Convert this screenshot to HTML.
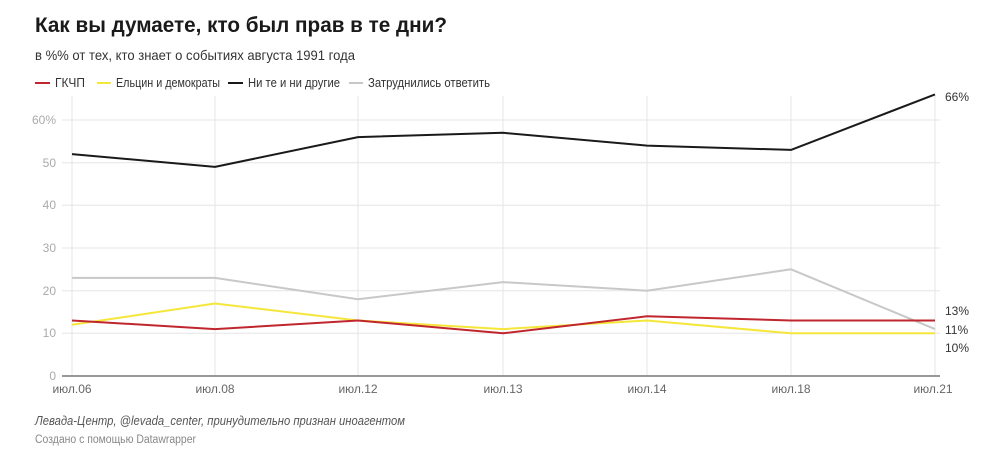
<!DOCTYPE html>
<html><head><meta charset="utf-8"><style>
body{margin:0;background:#fff;width:1000px;height:468px;overflow:hidden;font-family:"Liberation Sans","DejaVu Sans",sans-serif}
</style></head><body>
<svg width="1000" height="468" xmlns="http://www.w3.org/2000/svg" font-family="Liberation Sans, DejaVu Sans, sans-serif">
<text x="35" y="32" font-size="21" font-weight="bold" fill="#1a1a1a" textLength="412" lengthAdjust="spacingAndGlyphs">Как вы думаете, кто был прав в те дни?</text>
<text x="35" y="60" font-size="14" fill="#333" textLength="320" lengthAdjust="spacingAndGlyphs">в %% от тех, кто знает о событиях августа 1991 года</text>
<g font-size="12.5" fill="#333">
<line x1="35" y1="83" x2="50" y2="83" stroke="#c0262d" stroke-width="2"/><text x="55" y="87" textLength="30" lengthAdjust="spacingAndGlyphs">ГКЧП</text>
<line x1="97" y1="83" x2="111" y2="83" stroke="#f5e63a" stroke-width="2"/><text x="116" y="87" textLength="104" lengthAdjust="spacingAndGlyphs">Ельцин и демократы</text>
<line x1="228" y1="83" x2="243" y2="83" stroke="#1a1a1a" stroke-width="2"/><text x="248" y="87" textLength="92" lengthAdjust="spacingAndGlyphs">Ни те и ни другие</text>
<line x1="349" y1="83" x2="363" y2="83" stroke="#c8c8c8" stroke-width="2"/><text x="368" y="87" textLength="122" lengthAdjust="spacingAndGlyphs">Затруднились ответить</text>
</g>
<g stroke="#e6e6e6" stroke-width="1">
<line x1="62" y1="120" x2="940" y2="120"/><line x1="62" y1="162.7" x2="940" y2="162.7"/>
<line x1="62" y1="205.3" x2="940" y2="205.3"/><line x1="62" y1="248" x2="940" y2="248"/>
<line x1="62" y1="290.7" x2="940" y2="290.7"/><line x1="62" y1="333.3" x2="940" y2="333.3"/>
<line x1="72" y1="96" x2="72" y2="376"/><line x1="215" y1="96" x2="215" y2="376"/><line x1="358" y1="96" x2="358" y2="376"/>
<line x1="503" y1="96" x2="503" y2="376"/><line x1="647" y1="96" x2="647" y2="376"/><line x1="791" y1="96" x2="791" y2="376"/><line x1="935" y1="96" x2="935" y2="376"/>
</g>
<line x1="62" y1="376" x2="940" y2="376" stroke="#777" stroke-width="1.5"/>
<g font-size="12" fill="#aaa" text-anchor="end">
<text x="56" y="124">60%</text><text x="56" y="167">50</text><text x="56" y="209">40</text>
<text x="56" y="252">30</text><text x="56" y="295">20</text><text x="56" y="337">10</text><text x="56" y="380">0</text>
</g>
<g font-size="12" fill="#666" text-anchor="middle">
<text x="72" y="393">июл.06</text><text x="215" y="393">июл.08</text><text x="358" y="393">июл.12</text>
<text x="503" y="393">июл.13</text><text x="647" y="393">июл.14</text><text x="791" y="393">июл.18</text><text x="933" y="393">июл.21</text>
</g>
<g fill="none" stroke-width="2" stroke-linejoin="round">
<polyline stroke="#c8c8c8" points="72,277.9 215,277.9 358,299.2 503,282.1 647,290.7 791,269.3 935,329.1"/>
<polyline stroke="#f5e63a" points="72,324.8 215,303.5 358,320.5 503,329.1 647,320.5 791,333.3 935,333.3"/>
<polyline stroke="#c0262d" points="72,320.5 215,329.1 358,320.5 503,333.3 647,316.3 791,320.5 935,320.5"/>
<polyline stroke="#1a1a1a" points="72,154.1 215,166.9 358,137.1 503,132.8 647,145.6 791,149.9 935,94.4"/>
</g>
<g font-size="12" fill="#333">
<text x="945" y="101">66%</text><text x="945" y="315">13%</text><text x="945" y="334">11%</text><text x="945" y="352">10%</text>
</g>
<text x="35" y="425" font-size="12.5" font-style="italic" fill="#555" textLength="370" lengthAdjust="spacingAndGlyphs">Левада-Центр, @levada_center, принудительно признан иноагентом</text>
<text x="35" y="443" font-size="11.5" fill="#888" textLength="161" lengthAdjust="spacingAndGlyphs">Создано с помощью Datawrapper</text>
</svg>
</body></html>
